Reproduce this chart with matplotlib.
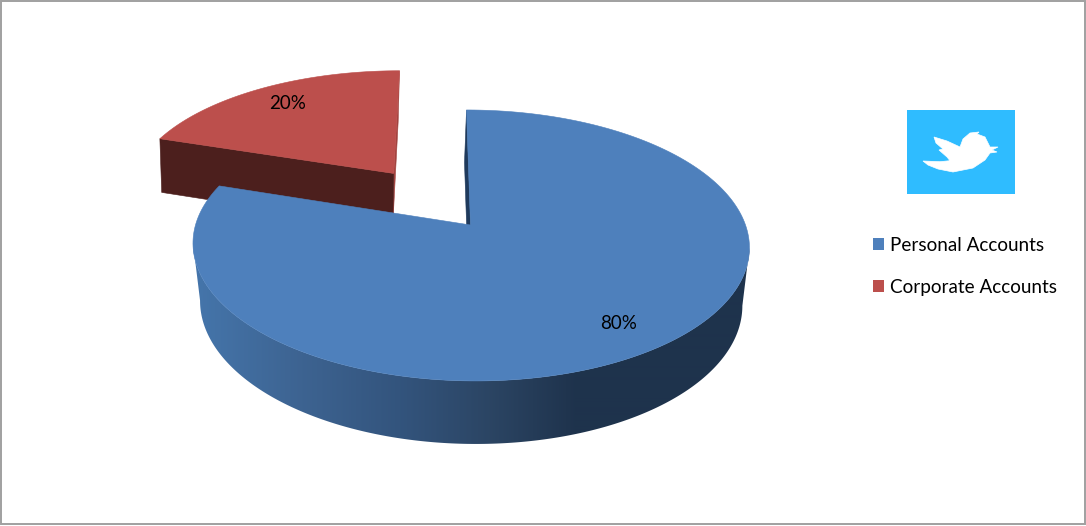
# -*- coding: utf-8 -*-
import numpy as np
import matplotlib
matplotlib.use('Agg')
import matplotlib.pyplot as plt
from matplotlib.patches import Patch, Polygon, Rectangle

labels = ['Personal Accounts', 'Corporate Accounts']
values = [80, 20]
top_colors = ['#4e80bc', '#bc4f4c']

# blue wall shade along the screen x
shade_x = [195, 300, 400, 490, 575, 750]
shade_r = [0.27, 0.24, 0.20, 0.17, 0.12, 0.12]
shade_g = [0.46, 0.39, 0.33, 0.27, 0.20, 0.20]
shade_b = [0.67, 0.57, 0.49, 0.39, 0.30, 0.30]

# bird logo, in pixels of the picture
bird_x = [923, 940, 950, 947, 939, 943, 936, 934, 947, 960, 963, 970, 979, 977, 985,
          990, 998, 992, 997, 990, 985, 973, 953, 938, 928]
bird_y = [161, 161.7, 160.7, 157, 150, 149, 143, 137, 141, 147, 139, 133, 132, 134, 137,
          147, 147, 150, 152, 153, 160, 168, 172, 169, 165]

TILT = -0.151


def project(u, v, depth=0):
    # unit pie disc to picture pixels, depth 0 is the top face and 1 the bottom one
    u, v = np.asarray(u, float), np.asarray(v, float)
    xc = 470.5 + 0 * depth
    yc = 225 + 57 * depth
    a = 275 - 7 * depth
    b = 132.4 + 5.1 * depth
    w = 1 - TILT * v
    return (xc + (a * u - 4.6 * v) / w, yc - b * v / w)


def rim(t1, t2, off, n=300):
    t = np.radians(np.linspace(t1, t2, n))
    return np.cos(t) + off[0], np.sin(t) + off[1]


def draw_side(ax, p1, p2, color, zorder, dx1=0, dx2=0):
    # flat cut face between two points of the disc
    x1, y1 = project(p1[0], p1[1], 0)
    x2, y2 = project(p2[0], p2[1], 0)
    x3, y3 = project(p2[0], p2[1], 1)
    x4, y4 = project(p1[0], p1[1], 1)
    ax.add_patch(Polygon([(x1, y1), (x2, y2), (x3 + dx2, y3), (x4 + dx1, y4)], facecolor=color,
                         edgecolor=color, linewidth=0.4, zorder=zorder))


def draw_wall(ax, t1, t2, off, zorder):
    # outer wall, a horizontal gradient cut out by the two rims, joined at the widest points
    u, v = rim(t1, t2, off, 800)
    x1, y1 = project(u, v, 0)
    x2, y2 = project(u, v, 1)
    i1, j1 = np.argmax(x1), np.argmin(x1)
    i2, j2 = np.argmax(x2), np.argmin(x2)
    outline = np.c_[np.r_[x1[i1:j1 + 1], x2[i2:j2 + 1][::-1]],
                    np.r_[y1[i1:j1 + 1], y2[i2:j2 + 1][::-1]]]
    xs = np.arange(150, 800)
    shade = np.dstack([np.interp(xs, shade_x, shade_r),
                       np.interp(xs, shade_x, shade_g),
                       np.interp(xs, shade_x, shade_b)])
    im = ax.imshow(shade, extent=(150, 800, 500, 100), aspect='auto', zorder=zorder,
                   interpolation='bilinear')
    patch = Polygon(outline, transform=ax.transData, facecolor='none', edgecolor='none')
    im.set_clip_path(patch)


fig = plt.figure(figsize=(10.86, 5.26), dpi=100)
ax = fig.add_axes([0, 0, 1, 1])
plt.rcParams['font.family'] = ['Lato', 'DejaVu Sans']

ax.add_patch(Rectangle((1, 1), 1083.5, 523, fill=False, edgecolor='#a0a0a0', linewidth=1.4))

total = float(sum(values))
start = 90.0
explode = [0.0, 0.505]
label_r = [0.823, 0.81]
label_nudge = [-3, 3]
z = 10
# the slices go clockwise from 12 o'clock, the exploded one is drawn first
slices = []
for i in range(len(values)):
    sweep = 360.0 * values[i] / total
    slices.append((i, start, start - sweep))
    start -= sweep

for i, t1, t2 in reversed(slices):
    mid = np.radians((t1 + t2) / 2)
    pull = mid - np.radians(1)
    off = (explode[i] * np.cos(pull), explode[i] * np.sin(pull))
    e1 = (np.cos(np.radians(t1)) + off[0], np.sin(np.radians(t1)) + off[1])
    e2 = (np.cos(np.radians(t2)) + off[0], np.sin(np.radians(t2)) + off[1])

    if i == 0:
        # only the part of the wall facing the viewer
        draw_wall(ax, 15, -195, off, z)
        draw_side(ax, off, e1, '#1f3a5c', z + 1, dx1=-2, dx2=-2)
    else:
        draw_side(ax, off, e2, '#a2433f', z, dx1=-3, dx2=-3)
        draw_side(ax, off, e1, '#4c1f1d', z + 1, dx1=-3, dx2=-6)

    u, v = rim(t1, t2, off)
    x, y = project(np.r_[off[0], u], np.r_[off[1], v])
    ax.add_patch(Polygon(np.c_[x, y], facecolor=top_colors[i], edgecolor=top_colors[i],
                         linewidth=0.4, zorder=z + 2))

    lx, ly = project(off[0] + label_r[i] * np.cos(mid), off[1] + label_r[i] * np.sin(mid))
    ax.text(lx + label_nudge[i], ly, f'{values[i] / total:.0%}', ha='center', va='center',
            fontsize=13.5, color='black', zorder=50)
    z += 10

# twitter badge
ax.add_patch(Rectangle((907, 110), 108, 84, facecolor='#2fbcff', edgecolor='none', zorder=5))
ax.add_patch(Polygon(np.c_[bird_x, bird_y], facecolor='white', edgecolor='white', linewidth=0.5, zorder=6))

handles = [Patch(facecolor=top_colors[0], edgecolor='none'), Patch(facecolor=top_colors[1], edgecolor='none')]
ax.legend(handles, labels, loc='upper left', bbox_to_anchor=(873 / 1086, 1 - 237 / 526),
          frameon=False, fontsize=13.6, handlelength=0.6, handleheight=0.6, handletextpad=0.3,
          labelspacing=1.3, borderpad=0, borderaxespad=0)

ax.set_xlim(0, 1086)
ax.set_ylim(526, 0)
ax.axis('off')

fig.savefig('out.png', dpi=100)
